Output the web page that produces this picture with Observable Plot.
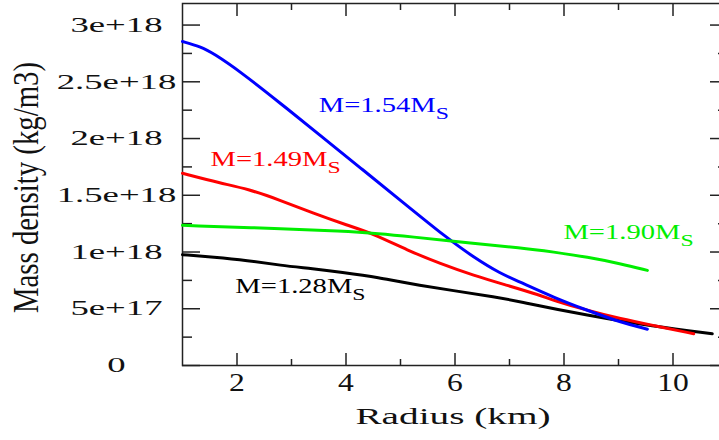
<!DOCTYPE html>
<html><head><meta charset="utf-8">
<script src="https://cdn.jsdelivr.net/npm/d3@7"></script>
<script src="https://cdn.jsdelivr.net/npm/@observablehq/plot@0.6"></script>
<style>html,body{margin:0;padding:0;background:#fff;overflow:hidden;}</style>
</head><body><div id="chart"></div>
<script>
// ---- data ----
const seriesNames  = ["M=1.28M", "M=1.49M", "M=1.54M", "M=1.90M"];
const seriesColors = ["#000000", "#ff0000", "#0000ff", "#00ee00"];

const radius128  = [1.0, 1.57, 2.19, 2.80, 3.40, 3.90, 4.63, 5.13, 6.96, 7.20, 8.43, 9.64, 10.72];
const density128 = [0.977e18, 0.956e18, 0.926e18, 0.882e18, 0.853e18, 0.823e18, 0.774e18, 0.721e18, 0.588e18, 0.559e18, 0.441e18, 0.344e18, 0.280e18];

const radius149  = [1.0, 1.70, 2.19, 2.80, 3.40, 4.03, 4.50, 5.13, 5.73, 6.34, 6.96, 7.57, 7.81, 8.43, 9.04, 9.64, 10.38];
const density149 = [1.694e18, 1.606e18, 1.557e18, 1.456e18, 1.341e18, 1.235e18, 1.162e18, 1.015e18, 0.897e18, 0.794e18, 0.706e18, 0.618e18, 0.574e18, 0.485e18, 0.412e18, 0.353e18, 0.280e18];

const radius154  = [1.0, 1.33, 1.57, 2.06, 2.80, 3.53, 4.27, 5.00, 5.86, 6.34, 6.83, 7.20, 7.81, 8.43, 9.04, 9.53];
const density154 = [2.855e18, 2.81e18, 2.75e18, 2.59e18, 2.31e18, 2.025e18, 1.74e18, 1.455e18, 1.12e18, 0.955e18, 0.81e18, 0.735e18, 0.60e18, 0.485e18, 0.38e18, 0.32e18];

const radius190  = [1.0, 2.80, 3.90, 4.63, 5.13, 6.34, 7.20, 7.81, 8.43, 9.04, 9.53];
const density190 = [1.235e18, 1.206e18, 1.185e18, 1.162e18, 1.138e18, 1.074e18, 1.039e18, 1.000e18, 0.956e18, 0.897e18, 0.838e18];

const seriesRadius  = [radius128, radius149, radius154, radius190];
const seriesDensity = [density128, density149, density154, density190];

const labelX = [1.97, 1.514, 3.50, 7.99];
const labelY = [0.635e18, 1.756e18, 2.232e18, 1.112e18];
const labelSubscript = "S";

const xMajorTicks = [2, 4, 6, 8, 10];
const xMinorTicks = [3, 5, 7, 9];
const xTickLabels = ["2", "4", "6", "8", "10"];
const yMajorTicks = [0, 5e17, 1e18, 1.5e18, 2e18, 2.5e18, 3e18];
const yMinorTicks = [2.5e17, 7.5e17, 1.25e18, 1.75e18, 2.25e18, 2.75e18];
const yTickLabels = ["0", "5e+17", "1e+18", "1.5e+18", "2e+18", "2.5e+18", "3e+18"];
const xTitle = "Radius (km)";
const yTitle = "Mass density (kg/m3)";

// ---- tables built from the arrays ----
const rows = seriesNames.flatMap((name, i) =>
  seriesRadius[i].map((r, j) => ({name, r, rho: seriesDensity[i][j]})));
const labelRows = seriesNames.map((name, i) => ({name, x: labelX[i], y: labelY[i]}));

const tickColor = "#222";
const plot = Plot.plot({
  width: 719, height: 440,
  marginLeft: 182, marginRight: -8, marginTop: 3, marginBottom: 75,
  style: {fontFamily: "'Liberation Serif', serif", background: "#fff", color: "#000", overflow: "hidden"},
  x: {domain: [1, 11]},
  y: {domain: [0, 3.19e18]},
  marks: [
    Plot.frame({stroke: tickColor, strokeWidth: 1.5}),
    // ticks (inward)
    Plot.axisY(yMajorTicks, {anchor: "left", tickSize: -18, fill: "none", label: null, stroke: tickColor, strokeWidth: 1.5}),
    Plot.axisY(yMinorTicks, {anchor: "left", tickSize: -10, fill: "none", label: null, stroke: tickColor, strokeWidth: 1.5}),
    Plot.axisY(yMajorTicks, {anchor: "right", tickSize: -18, fill: "none", label: null, stroke: tickColor, strokeWidth: 1.5}),
    Plot.axisY(yMinorTicks, {anchor: "right", tickSize: -10, fill: "none", label: null, stroke: tickColor, strokeWidth: 1.5}),
    Plot.axisX(xMajorTicks, {anchor: "bottom", tickSize: -12, fill: "none", label: null, stroke: tickColor, strokeWidth: 1.5}),
    Plot.axisX(xMinorTicks, {anchor: "bottom", tickSize: -6, fill: "none", label: null, stroke: tickColor, strokeWidth: 1.5}),
    Plot.axisX(xMajorTicks, {anchor: "top", tickSize: -12, fill: "none", label: null, stroke: tickColor, strokeWidth: 1.5}),
    Plot.axisX(xMinorTicks, {anchor: "top", tickSize: -6, fill: "none", label: null, stroke: tickColor, strokeWidth: 1.5}),
    // tick labels
    Plot.axisY(yMajorTicks, {anchor: "left", tickSize: 0, tickPadding: 66, textAnchor: "middle", label: null,
      fontSize: 21, fill: "#111", tickFormat: d => yTickLabels[yMajorTicks.indexOf(d)]}),
    Plot.axisX(xMajorTicks, {anchor: "bottom", tickSize: 0, tickPadding: 7, label: null,
      fontSize: 25.5, fill: "#111", tickFormat: d => xTickLabels[xMajorTicks.indexOf(d)]}),
    // axis titles
    Plot.text([xTitle], {text: d => d, frameAnchor: "bottom", textAnchor: "middle", dx: -2, dy: 58, lineAnchor: "bottom", fontSize: 22.7, fill: "#111"}),
    Plot.text([yTitle], {text: d => d, frameAnchor: "left", textAnchor: "middle", rotate: -90, dx: -145, dy: 3, lineAnchor: "bottom", fontSize: 24, fill: "#111"}),
    // curves
    ...seriesNames.map((name, i) => Plot.line(rows.filter(d => d.name === name),
      {x: "r", y: "rho", stroke: seriesColors[i], strokeWidth: 3, curve: "basis"})),
    // series labels
    ...seriesNames.map((name, i) => Plot.text(labelRows.filter(d => d.name === name),
      {x: "x", y: "y", text: "name", fill: seriesColors[i], textAnchor: "start", lineAnchor: "bottom", fontSize: 20}))
  ]
});

// ---- post-process: subscripts and horizontal text stretch ----
d3.select(plot).selectAll("text").each(function () {
  const s = this.textContent;
  let sx = 1, sy = 1;
  if (seriesNames.includes(s)) {
    d3.select(this).append("tspan").attr("dy", 7).attr("font-size", 16.6).text(labelSubscript);
    sx = 1.43;
  } else if (yTickLabels.includes(s)) {
    sx = 1.75;
  } else if (xTickLabels.includes(s)) {
    sx = 1.24;
  } else if (s === xTitle) {
    sx = 1.73;
  } else if (s === yTitle) {
    sx = 1.2; sy = 1.5;
  }
  if (sx !== 1 || sy !== 1) {
    let t = this.getAttribute("transform") || "";
    const xa = this.getAttribute("x");
    if (!t && xa && !/em$/.test(xa)) { t = `translate(${xa},0)`; this.removeAttribute("x"); }
    this.setAttribute("transform", `${t} scale(${sx},${sy})`);
  }
});
document.getElementById("chart").appendChild(plot);
</script>
</body></html>
